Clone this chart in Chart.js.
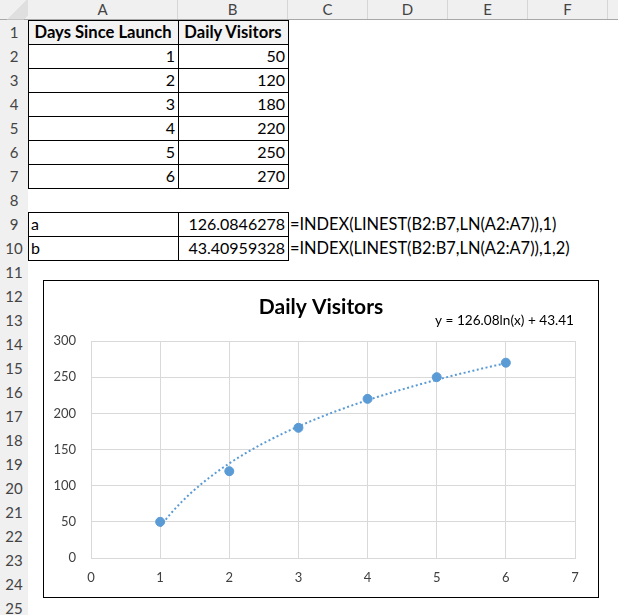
<!DOCTYPE html>
<html>
<head>
<meta charset="utf-8">
<script src="https://cdn.jsdelivr.net/npm/chart.js@4.4.1/dist/chart.umd.min.js"></script>
<style>
  body { margin: 0; width: 618px; height: 615px; overflow: hidden; background: #fff; position: relative; font-family: Lato, "Open Sans", sans-serif; }
  .abs { position: absolute; box-sizing: border-box; }
  .hdr { background: #f0f0f0; color: #444; font-size: 15px; text-align: center; }
  .cell { font-size: 16px; color: #000; white-space: nowrap; line-height: 24px; height: 24px; padding: 0 3px; }
  #chartBox { left: 43px; top: 280px; width: 556px; height: 318px; border: 1px solid #000; background: #fff; }
  #c { position: absolute; left: 0; top: 0; }
</style>
</head>
<body>
<div id="sheet"></div>
<div id="chartBox" class="abs"><canvas id="c" width="554" height="316"></canvas></div>
<script>
// data from the sheet
const days = [1, 2, 3, 4, 5, 6];
const visitors = [50, 120, 180, 220, 250, 270];
const headers = ['Days Since Launch', 'Daily Visitors'];
const coefNames = ['a', 'b'];
const coefValues = ['126.0846278', '43.40959328'];
const coefFormulas = ['=INDEX(LINEST(B2:B7,LN(A2:A7)),1)', '=INDEX(LINEST(B2:B7,LN(A2:A7)),1,2)'];
const trendA = 126.0846278;
const trendB = 43.40959328;
const trendLabel = 'y = 126.08ln(x) + 43.41';
const colLetters = ['A', 'B', 'C', 'D', 'E', 'F'];
const xTicks = [0, 1, 2, 3, 4, 5, 6, 7];
const yTicks = [0, 50, 100, 150, 200, 250, 300];

// ----- SHEET -----
const sheet = document.getElementById('sheet');
const colEdges = [28, 178, 288, 368, 448, 528, 608];
const rowTop = (r) => 20 + 24 * (r - 1);

const box = (cls, x, y, w, h, css = '') => {
  const d = document.createElement('div');
  d.className = 'abs ' + cls;
  d.style.cssText = `left:${x}px;top:${y}px;width:${w}px;height:${h}px;${css}`;
  sheet.appendChild(d);
  return d;
};

// column header bar + row header strip
box('hdr', 0, 0, 618, 20, 'border-bottom:1px solid #a8a8a8');
box('hdr', 0, 20, 28, 595, 'border-right:1px solid #c8c8c8');
box('', 0, 0, 28, 20, 'background:linear-gradient(135deg, transparent 55%, #d4d4d4 55%, #d4d4d4 90%, transparent 90%);opacity:0.6');
colLetters.forEach((l, i) => {
  const d = box('hdr', colEdges[i], 0, colEdges[i + 1] - colEdges[i], 19,
    'border-right:1px solid #d6d6d6;line-height:19px');
  d.textContent = l;
});
box('hdr', 608, 0, 10, 19);
for (let r = 1; r <= 25; r++) {
  const d = box('hdr', 0, rowTop(r), 28, 24, 'line-height:24px');
  d.textContent = r;
}

// header fill
box('', 28, rowTop(1), 260, 24, 'background:#f3f3f3');

const cell = (txt, c, r, align, bold) => {
  const d = box('cell', colEdges[c], rowTop(r), colEdges[c + 1] - colEdges[c], 24,
    `text-align:${align};${bold ? 'font-weight:bold;font-size:16.6px;' : ''}`);
  d.textContent = txt;
  return d;
};
headers.forEach((h, i) => cell(h, i, 1, 'center', true));
days.forEach((d, i) => {
  cell(String(d), 0, i + 2, 'right');
  cell(String(visitors[i]), 1, i + 2, 'right');
});
coefNames.forEach((n, i) => {
  cell(n, 0, 9 + i, 'left');
  cell(coefValues[i], 1, 9 + i, 'right');
  const f = cell(coefFormulas[i], 2, 9 + i, 'left');
  f.style.width = '330px';
  f.style.paddingLeft = '2px';
  f.style.fontSize = '16.4px';
});

// table borders
const hLine = (x1, x2, y) => box('', x1, y - 0.5, x2 - x1 + 1, 1, 'background:#000');
const vLine = (x, y1, y2) => box('', x - 0.5, y1 - 0.5, 1, y2 - y1 + 1, 'background:#000');
for (let r = 1; r <= 8; r++) hLine(28, 288, rowTop(r));
[28, 178, 288].forEach((x) => vLine(x, rowTop(1), rowTop(8)));
for (let r = 9; r <= 11; r++) hLine(28, 288, rowTop(r));
[28, 178, 288].forEach((x) => vLine(x, rowTop(9), rowTop(11)));

// ----- CHART -----
const trendPlugin = {
  id: 'trend',
  beforeDatasetsDraw(chart) {
    const {ctx, scales: {x, y}} = chart;
    const p0 = x.getPixelForValue(days[0]);
    const p1 = x.getPixelForValue(days[days.length - 1]);
    ctx.save();
    ctx.strokeStyle = '#5b9bd5';
    ctx.lineWidth = 2;
    ctx.setLineDash([2, 2.5]);
    ctx.beginPath();
    for (let px = p0; px <= p1 + 0.01; px += 1) {
      const v = x.getValueForPixel(px);
      const py = y.getPixelForValue(trendA * Math.log(v) + trendB);
      if (px === p0) ctx.moveTo(px, py); else ctx.lineTo(px, py);
    }
    ctx.stroke();
    ctx.restore();
  },
  afterDraw(chart) {
    const {ctx, chartArea} = chart;
    ctx.save();
    ctx.font = '13.6px Lato';
    ctx.fillStyle = '#000';
    ctx.textAlign = 'right';
    ctx.textBaseline = 'middle';
    ctx.fillText(trendLabel, chartArea.right - 1, chartArea.top - 20);
    ctx.restore();
  },
};

new Chart(document.getElementById('c'), {
  type: 'scatter',
  data: {
    datasets: [{
      label: 'Daily Visitors',
      data: days.map((d, i) => ({x: d, y: visitors[i]})),
      backgroundColor: '#5b9bd5',
      borderColor: '#5b9bd5',
      pointRadius: 4.5,
      showLine: false,
    }],
  },
  options: {
    responsive: false,
    animation: false,
    layout: {padding: 0},
    plugins: {
      legend: {display: false},
      tooltip: {enabled: false},
      title: {
        display: true,
        text: 'Daily Visitors',
        color: '#000',
        font: {family: 'Lato', size: 21, weight: 'bold', lineHeight: 1.2},
        padding: {top: 13.4, bottom: 21.4},
      },
    },
    scales: {
      x: {
        type: 'linear',
        min: xTicks[0],
        max: xTicks[xTicks.length - 1],
        afterBuildTicks: (s) => { s.ticks = xTicks.map((v) => ({value: v})); },
        afterFit: (s) => { s.height = 39; },
        grid: {color: '#d9d9d9', drawTicks: false},
        border: {color: '#d9d9d9'},
        ticks: {color: '#404040', font: {family: 'Lato', size: 13}, padding: 12},
      },
      y: {
        min: yTicks[0],
        max: yTicks[yTicks.length - 1],
        afterBuildTicks: (s) => { s.ticks = yTicks.map((v) => ({value: v})); },
        afterFit: (s) => { s.width = 47; },
        grid: {color: '#d9d9d9', drawTicks: false},
        border: {color: '#d9d9d9'},
        ticks: {color: '#404040', font: {family: 'Lato', size: 13}, padding: 15},
      },
      // empty right-hand margin so the title stays centred on the whole chart
      yRight: {
        position: 'right',
        min: yTicks[0],
        max: yTicks[yTicks.length - 1],
        afterFit: (s) => { s.width = 23; },
        grid: {display: false, drawTicks: false},
        border: {display: false},
        ticks: {display: false},
      },
    },
  },
  plugins: [trendPlugin],
});
</script>
</body>
</html>
